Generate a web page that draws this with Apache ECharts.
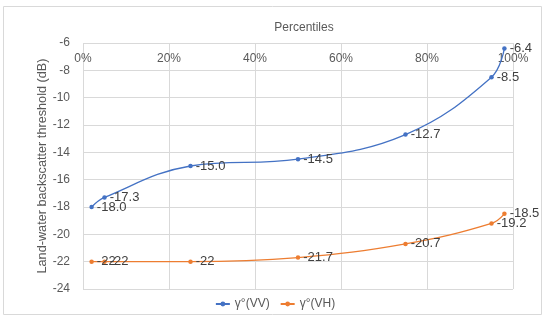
<!DOCTYPE html>
<html>
<head>
<meta charset="utf-8">
<script src="https://cdn.jsdelivr.net/npm/echarts@6/dist/echarts.min.js"></script>
<style>html,body{margin:0;padding:0;background:#fff}#c{width:550px;height:320px}</style>
</head>
<body>
<div id="c"></div>
<script>
const percentiles = [2, 5, 25, 50, 75, 95, 98];
const vvValues = [-18.0, -17.3, -15.0, -14.5, -12.7, -8.5, -6.4];
const vhValues = [-22, -22, -22, -21.7, -20.7, -19.2, -18.5];
const seriesNames = ['γ°(VV)', 'γ°(VH)'];
const titleText = 'Percentiles';
const yAxisTitle = 'Land-water backscatter threshold (dB)';

const FONT = 'Liberation Sans';
const chart = echarts.init(document.getElementById('c'));
const pair = (xs, ys) => xs.map((x, i) => [x, ys[i]]);
chart.setOption({
  animation: false,
  textStyle: { fontFamily: FONT },
  title: {
    text: titleText, left: 299, top: 17, textAlign: 'center',
    textStyle: { fontSize: 12, fontWeight: 'normal', color: '#595959', fontFamily: FONT }
  },
  graphic: [{
    type: 'rect', shape: { x: 3.5, y: 6.5, width: 538, height: 308 },
    style: { fill: 'none', stroke: '#D9D9D9', lineWidth: 1 }, silent: true, z: -1
  }],
  legend: {
    data: seriesNames, left: 'center', top: 293, itemGap: 10, itemWidth: 14, itemHeight: 6,
    textStyle: { fontSize: 12, color: '#595959', fontFamily: FONT }
  },
  grid: { left: 83, right: 37, top: 43, bottom: 31 },
  xAxis: {
    type: 'value', position: 'top', min: 0, max: 100, interval: 20,
    axisLine: { show: false }, axisTick: { show: false },
    axisLabel: { inside: true, margin: 10, formatter: '{value}%', fontSize: 12, color: '#595959', fontFamily: FONT },
    splitLine: { show: true, lineStyle: { color: '#D9D9D9', width: 1 } }
  },
  yAxis: {
    type: 'value', min: -24, max: -6, interval: 2,
    name: yAxisTitle, nameLocation: 'middle', nameGap: 34, nameRotate: 90, nameMoveOverlap: false,
    nameTextStyle: { fontSize: 12.7, color: '#595959', fontFamily: FONT },
    axisLine: { show: false }, axisTick: { show: false },
    axisLabel: { margin: 13, fontSize: 12, color: '#595959', fontFamily: FONT },
    splitLine: { show: true, lineStyle: { color: '#D9D9D9', width: 1 } }
  },
  series: [
    {
      name: seriesNames[0], type: 'line', smooth: 0.4, data: pair(percentiles, vvValues),
      symbol: 'circle', symbolSize: 4.5, color: '#4472C4', lineStyle: { width: 1.3 },
      label: { show: true, position: 'right', distance: 3, fontSize: 13, color: '#404040', fontFamily: FONT,
        formatter: p => p.value[1].toFixed(1) }
    },
    {
      name: seriesNames[1], type: 'line', smooth: 0.4, data: pair(percentiles, vhValues),
      symbol: 'circle', symbolSize: 4.5, color: '#ED7D31', lineStyle: { width: 1.3 },
      label: { show: true, position: 'right', distance: 3, fontSize: 13, color: '#404040', fontFamily: FONT,
        formatter: p => String(p.value[1]) }
    }
  ]
});
</script>
</body>
</html>
